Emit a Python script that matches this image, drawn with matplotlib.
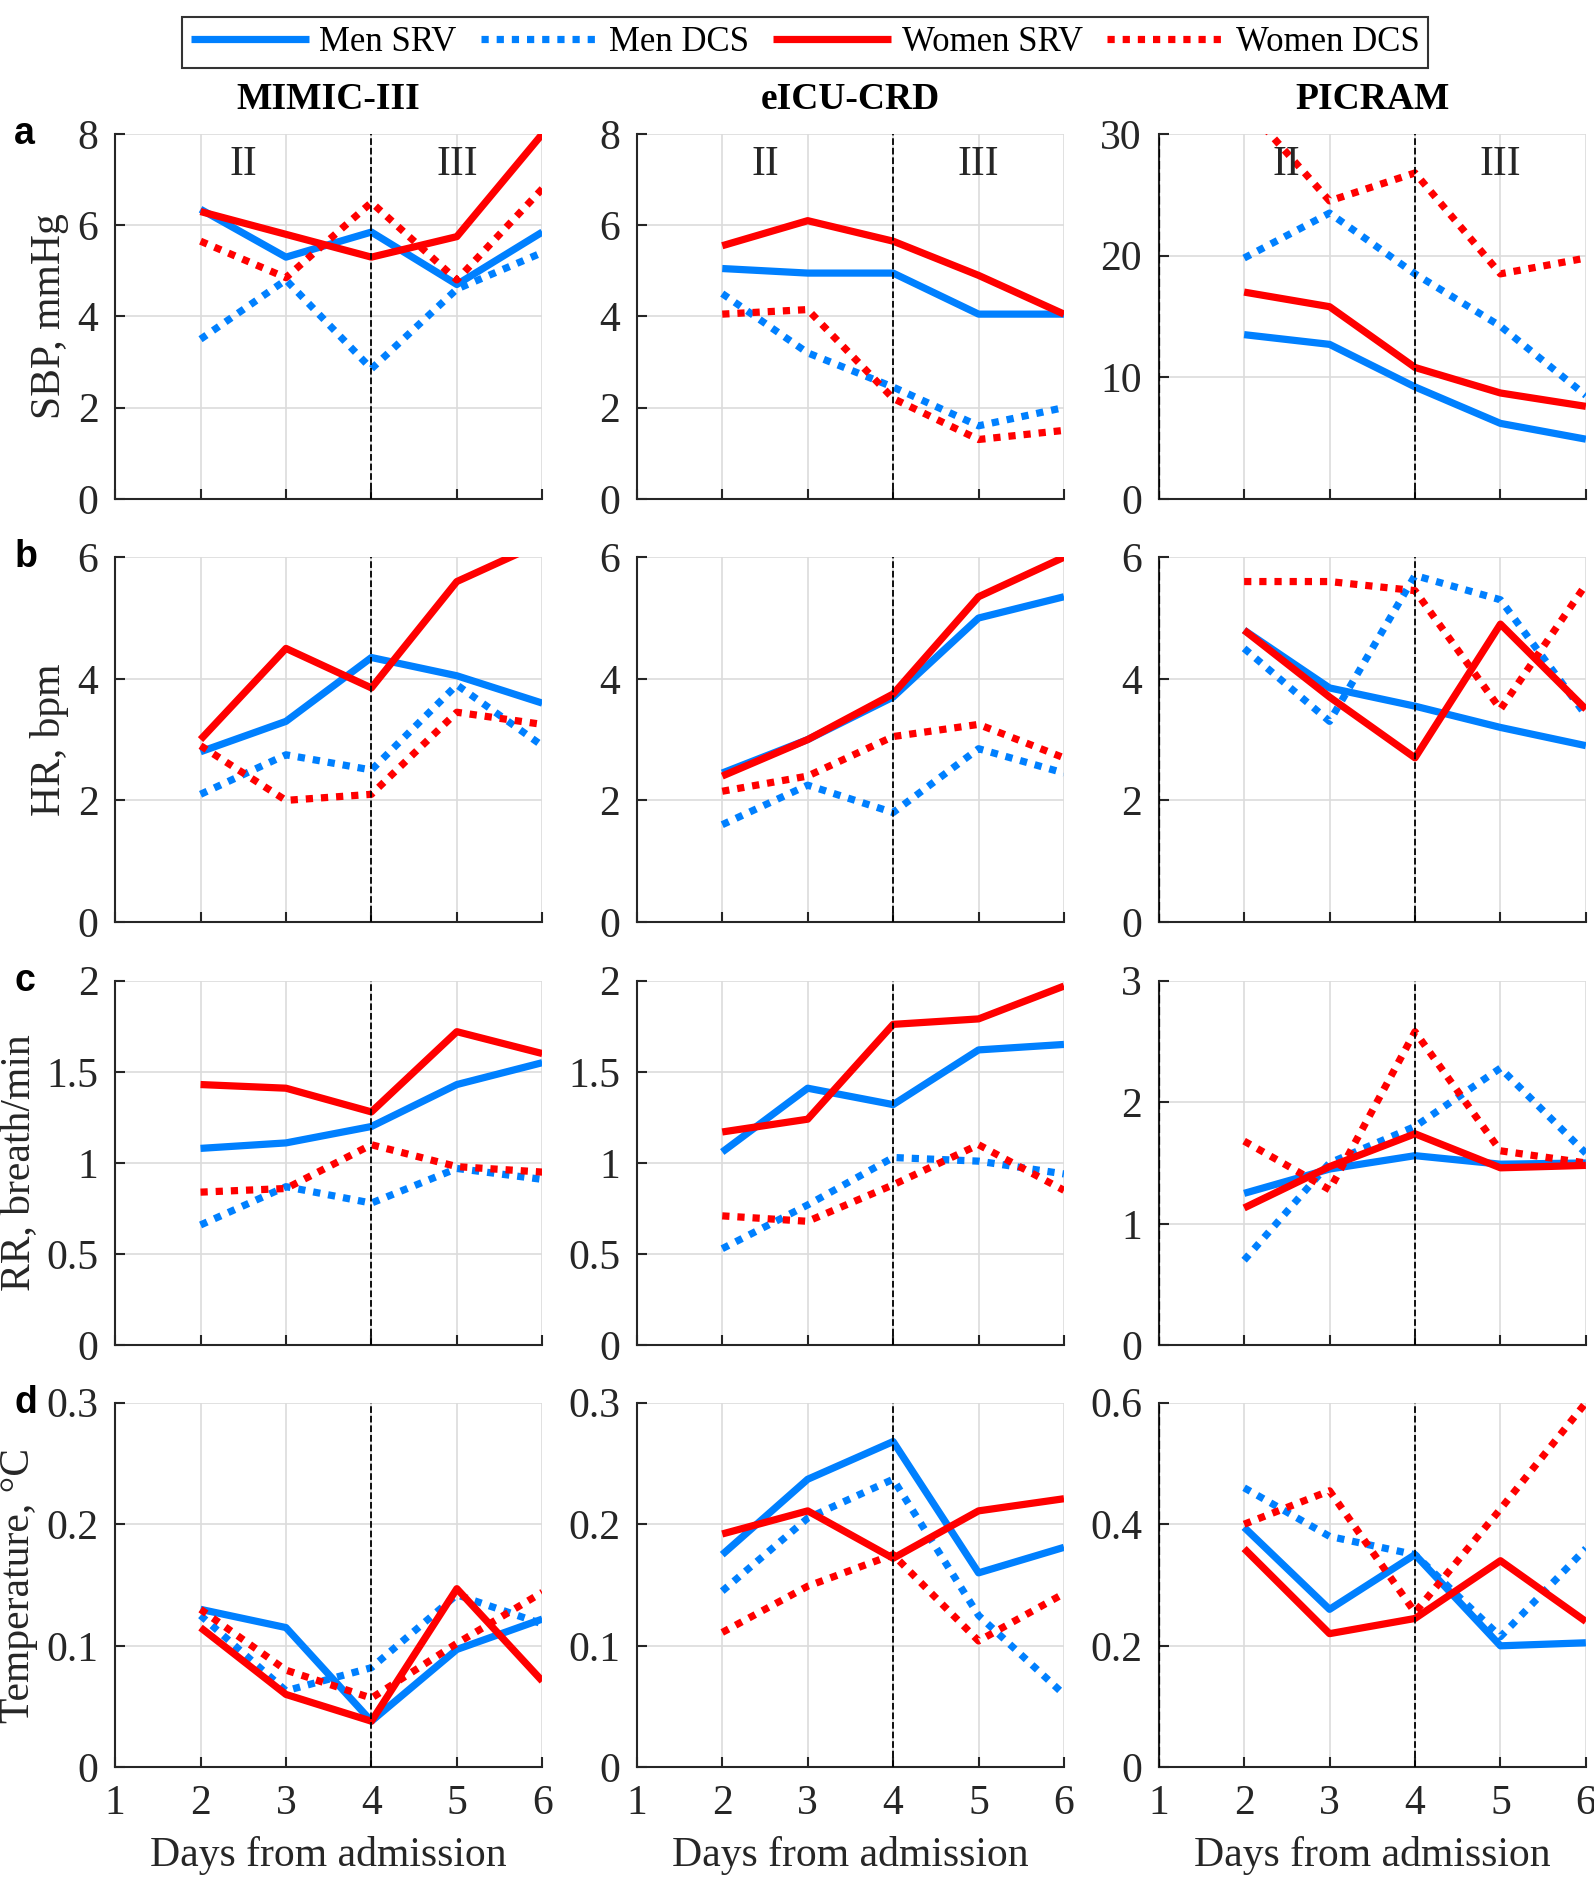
import matplotlib.pyplot as plt

days = [2, 3, 4, 5, 6]
datasets = ['MIMIC-III', 'eICU-CRD', 'PICRAM']
row_labels = ['SBP, mmHg', 'HR, bpm', 'RR, breath/min', 'Temperature, °C']
panel_letters = ['a', 'b', 'c', 'd']
series_names = ['Men SRV', 'Men DCS', 'Women SRV', 'Women DCS']

# SBP
sbp_mimic = {'Men SRV': [6.35, 5.3, 5.85, 4.7, 5.85],
             'Men DCS': [3.5, 4.8, 2.85, 4.6, 5.4],
             'Women SRV': [6.3, 5.8, 5.3, 5.75, 8.0],
             'Women DCS': [5.65, 4.85, 6.5, 4.8, 6.8]}
sbp_eicu = {'Men SRV': [5.05, 4.95, 4.95, 4.05, 4.05],
            'Men DCS': [4.5, 3.2, 2.45, 1.6, 2.0],
            'Women SRV': [5.55, 6.1, 5.65, 4.9, 4.05],
            'Women DCS': [4.05, 4.15, 2.2, 1.3, 1.5]}
sbp_picram = {'Men SRV': [13.5, 12.7, 9.2, 6.2, 4.9],
              'Men DCS': [19.8, 23.5, 18.5, 14.2, 8.5],
              'Women SRV': [17.0, 15.8, 10.8, 8.7, 7.6],
              'Women DCS': [32.4, 24.5, 26.8, 18.5, 19.8]}

# HR
hr_mimic = {'Men SRV': [2.8, 3.3, 4.35, 4.05, 3.6],
            'Men DCS': [2.1, 2.75, 2.5, 3.9, 2.9],
            'Women SRV': [3.0, 4.5, 3.85, 5.6, 6.24],
            'Women DCS': [2.9, 2.0, 2.1, 3.45, 3.25]}
hr_eicu = {'Men SRV': [2.45, 3.0, 3.7, 5.0, 5.35],
           'Men DCS': [1.6, 2.25, 1.8, 2.85, 2.45],
           'Women SRV': [2.4, 3.0, 3.75, 5.35, 6.0],
           'Women DCS': [2.15, 2.4, 3.05, 3.25, 2.7]}
hr_picram = {'Men SRV': [4.8, 3.85, 3.55, 3.2, 2.9],
             'Men DCS': [4.5, 3.3, 5.7, 5.3, 3.4],
             'Women SRV': [4.8, 3.7, 2.7, 4.9, 3.5],
             'Women DCS': [5.6, 5.6, 5.45, 3.5, 5.55]}

# RR
rr_mimic = {'Men SRV': [1.08, 1.11, 1.2, 1.43, 1.55],
            'Men DCS': [0.66, 0.87, 0.78, 0.97, 0.91],
            'Women SRV': [1.43, 1.41, 1.28, 1.72, 1.6],
            'Women DCS': [0.84, 0.86, 1.1, 0.98, 0.95]}
rr_eicu = {'Men SRV': [1.06, 1.41, 1.32, 1.62, 1.65],
           'Men DCS': [0.53, 0.77, 1.03, 1.01, 0.94],
           'Women SRV': [1.17, 1.24, 1.76, 1.79, 1.97],
           'Women DCS': [0.71, 0.68, 0.88, 1.1, 0.85]}
rr_picram = {'Men SRV': [1.25, 1.45, 1.56, 1.49, 1.5],
             'Men DCS': [0.7, 1.5, 1.8, 2.28, 1.58],
             'Women SRV': [1.13, 1.47, 1.74, 1.46, 1.48],
             'Women DCS': [1.68, 1.28, 2.58, 1.6, 1.5]}

# Temperature
temp_mimic = {'Men SRV': [0.13, 0.115, 0.038, 0.097, 0.122],
              'Men DCS': [0.125, 0.063, 0.082, 0.142, 0.118],
              'Women SRV': [0.115, 0.06, 0.038, 0.147, 0.071],
              'Women DCS': [0.13, 0.08, 0.057, 0.102, 0.144]}
temp_eicu = {'Men SRV': [0.175, 0.237, 0.268, 0.16, 0.181],
             'Men DCS': [0.145, 0.205, 0.237, 0.125, 0.06],
             'Women SRV': [0.192, 0.211, 0.172, 0.211, 0.221],
             'Women DCS': [0.111, 0.149, 0.175, 0.104, 0.143]}
temp_picram = {'Men SRV': [0.395, 0.26, 0.35, 0.2, 0.205],
               'Men DCS': [0.46, 0.38, 0.35, 0.215, 0.36],
               'Women SRV': [0.36, 0.22, 0.245, 0.34, 0.24],
               'Women DCS': [0.4, 0.455, 0.255, 0.425, 0.6]}

grid_data = [[sbp_mimic, sbp_eicu, sbp_picram],
             [hr_mimic, hr_eicu, hr_picram],
             [rr_mimic, rr_eicu, rr_picram],
             [temp_mimic, temp_eicu, temp_picram]]

y_max = [[8, 8, 30], [6, 6, 6], [2, 2, 3], [0.3, 0.3, 0.6]]
y_ticks = [[[0, 2, 4, 6, 8], [0, 2, 4, 6, 8], [0, 10, 20, 30]],
           [[0, 2, 4, 6]] * 3,
           [[0, 0.5, 1, 1.5, 2], [0, 0.5, 1, 1.5, 2], [0, 1, 2, 3]],
           [[0, 0.1, 0.2, 0.3], [0, 0.1, 0.2, 0.3], [0, 0.2, 0.4, 0.6]]]
y_ticklabels = [[['0', '2', '4', '6', '8'], ['0', '2', '4', '6', '8'], ['0', '10', '20', '30']],
                [['0', '2', '4', '6']] * 3,
                [['0', '0.5', '1', '1.5', '2'], ['0', '0.5', '1', '1.5', '2'], ['0', '1', '2', '3']],
                [['0', '0.1', '0.2', '0.3'], ['0', '0.1', '0.2', '0.3'], ['0', '0.2', '0.4', '0.6']]]
x_ticklabels = ['1', '2', '3', '4', '5', '6']

blue = '#0080ff'
red = '#ff0000'
dots = (0, (1, 1.1))
styles = {'Men SRV': (blue, '-'), 'Men DCS': (blue, dots),
          'Women SRV': (red, '-'), 'Women DCS': (red, dots)}

serif = ['Liberation Serif', 'DejaVu Serif']
plt.rcParams['font.family'] = serif
plt.rcParams['axes.linewidth'] = 1.5
dark = '#262626'

fig = plt.figure(figsize=(15.94, 18.8), dpi=100)

col_left = [0.0722, 0.3995, 0.7269]
col_w = 0.268
row_bottom = [0.7347, 0.5096, 0.2844, 0.0599]
row_h = 0.194

for r in range(4):
    for c in range(3):
        ax = fig.add_axes([col_left[c], row_bottom[r], col_w, row_h])
        d = grid_data[r][c]
        for name in series_names:
            col, ls = styles[name]
            ax.plot(days, d[name], color=col, linestyle=ls, linewidth=5.2,
                    label=name, solid_capstyle='butt', zorder=3)
        ax.set_xlim(1, 6)
        ax.set_ylim(0, y_max[r][c])
        ax.set_xticks([1, 2, 3, 4, 5, 6])
        ax.set_xticklabels(x_ticklabels, family=serif)
        ax.set_yticks(y_ticks[r][c])
        ax.set_yticklabels(y_ticklabels[r][c], family=serif)
        ax.grid(True, color='#dcdcdc', linewidth=1.2)
        ax.set_axisbelow(True)
        ax.spines['top'].set_visible(False)
        ax.spines['right'].set_visible(False)
        ax.spines['left'].set_color(dark)
        ax.spines['bottom'].set_color(dark)
        ax.tick_params(direction='in', length=7, width=1.5, colors=dark,
                       labelsize=30, pad=12)
        ax.axvline(4, color='black', linestyle='--', linewidth=1.3, zorder=4)
        if c == 2:
            ax.axvline(1, color='black', linestyle='--', linewidth=1.6, zorder=4)
        if r == 3:
            ax.set_xlabel('Days from admission', fontsize=30, color=dark,
                          labelpad=10)
        else:
            ax.tick_params(labelbottom=False)
        if c == 0:
            ax.set_ylabel(row_labels[r], fontsize=30, color=dark, labelpad=6)
            fig.text(0.009, row_bottom[r] + row_h, panel_letters[r],
                     family='Liberation Sans', fontweight='bold', fontsize=27,
                     va='center', ha='left')
        if r == 0:
            ax.set_title(datasets[c], fontsize=27, fontweight='bold', pad=18)
            ax.text(2.5, y_max[r][c] * 0.915, 'II', fontsize=30, ha='center',
                    va='center', color=dark)
            ax.text(5, y_max[r][c] * 0.915, 'III', fontsize=30, ha='center',
                    va='center', color=dark)

handles, labels = ax.get_legend_handles_labels()
leg = fig.legend(handles, labels, loc='upper center', ncol=4,
                 bbox_to_anchor=(0.505, 1.0), fontsize=25, frameon=True,
                 fancybox=False, edgecolor='black', handlelength=3.4,
                 columnspacing=0.7, handletextpad=0.3, borderpad=0.25)
leg.get_frame().set_linewidth(1.5)

fig.savefig('out.png', dpi=100)
